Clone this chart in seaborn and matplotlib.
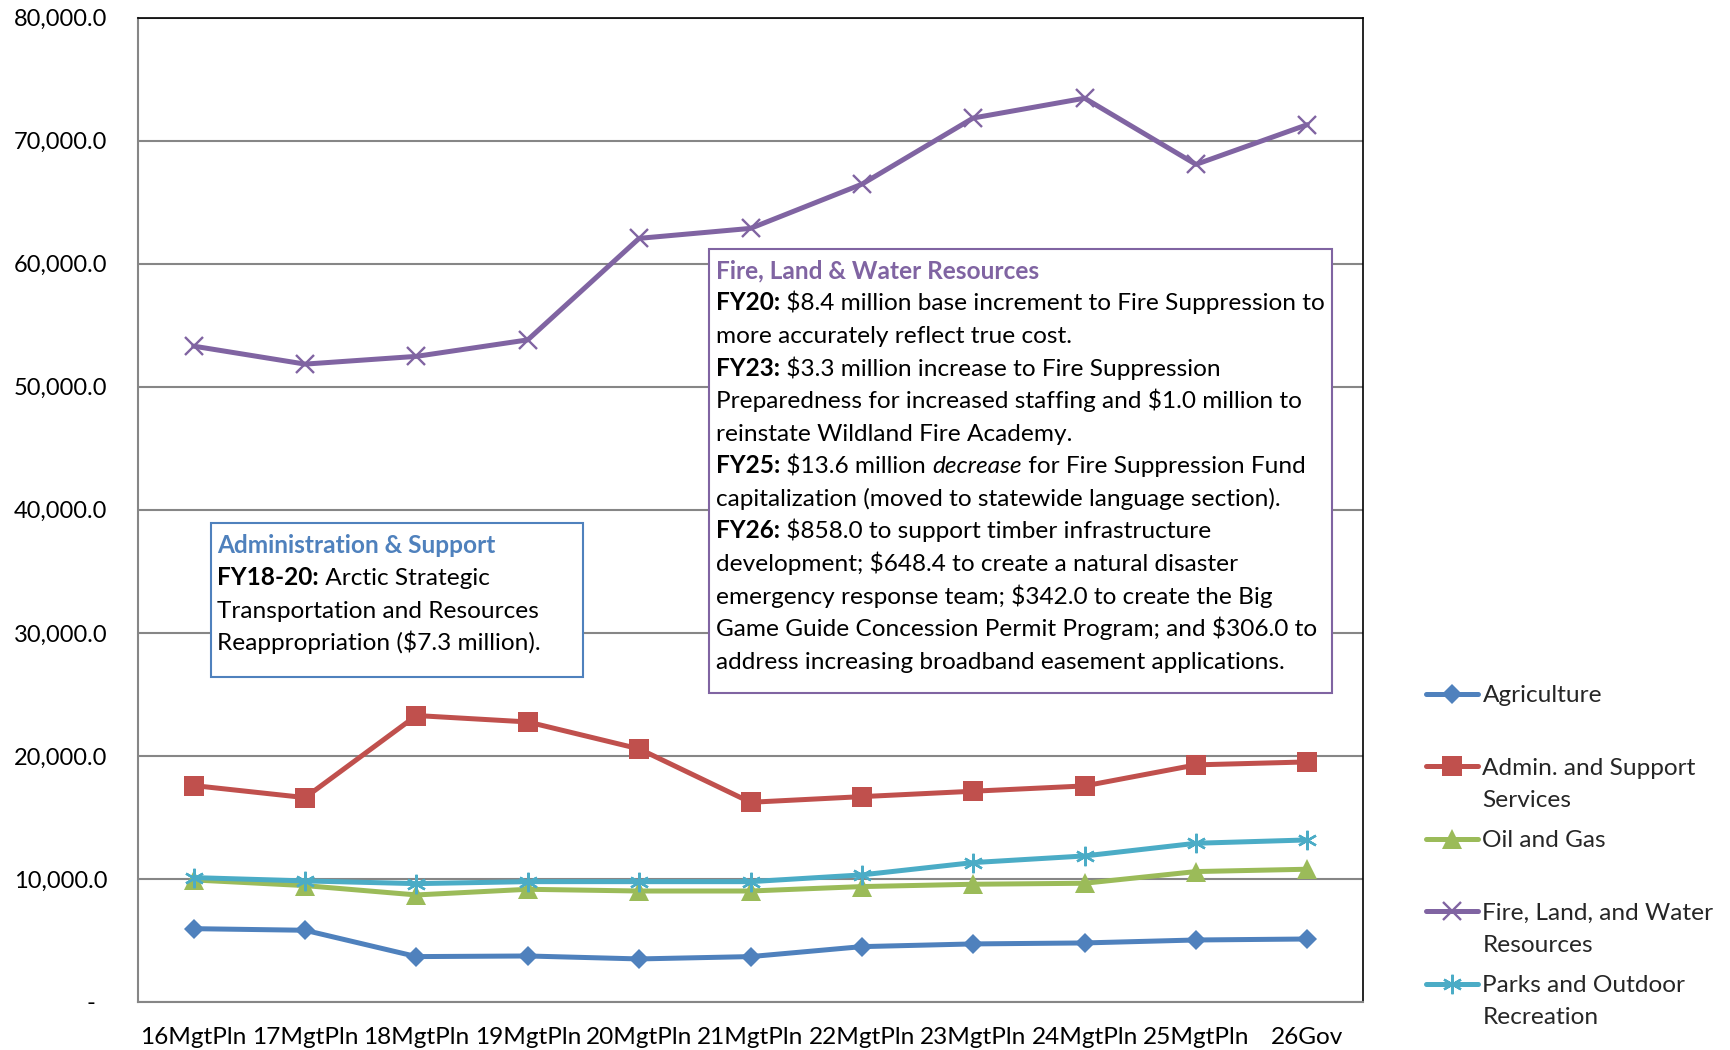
import matplotlib.pyplot as plt
import seaborn as sns
from matplotlib.patches import Rectangle

# --- data ---
years = ['16MgtPln', '17MgtPln', '18MgtPln', '19MgtPln', '20MgtPln', '21MgtPln',
         '22MgtPln', '23MgtPln', '24MgtPln', '25MgtPln', '26Gov']
agriculture = [5960, 5830, 3690, 3740, 3500, 3690, 4500, 4720, 4800, 5040, 5120]
admin_support = [17590, 16610, 23280, 22760, 20570, 16230, 16690, 17130, 17560, 19270, 19510]
oil_gas = [9920, 9460, 8700, 9160, 9020, 9020, 9380, 9570, 9650, 10600, 10790]
fire_land_water = [53300, 51840, 52470, 53810, 62060, 62870, 66460, 71840, 73450, 68070, 71300]
parks = [10110, 9840, 9620, 9780, 9780, 9780, 10330, 11330, 11870, 12900, 13170]

series_names = ['Agriculture', 'Admin. and Support\nServices', 'Oil and Gas',
                'Fire, Land, and Water\nResources', 'Parks and Outdoor\nRecreation']
series_values = [agriculture, admin_support, oil_gas, fire_land_water, parks]
colors = ['#4F81BD', '#C0504D', '#9BBB59', '#8064A2', '#4BACC6']
markers = ['D', 's', '^', 'x', (6, 2, 0)]
msizes = [10.5, 14, 14.5, 13, 14]

FS = 17.6  # Calibri-ish size used for the texts

sns.set_theme(style="white")
plt.rcParams['font.family'] = ['Lato', 'DejaVu Sans']

fig = plt.figure(figsize=(17.3, 10.5), dpi=100)
W, H = 1730, 1050
ax = fig.add_axes([138 / W, 1 - 1002 / H, 1225 / W, (1002 - 17.6) / H])

# 系列ごとに描画 (filled と line-art のマーカーが混在するため)
for name, vals, c, m, ms in zip(series_names, series_values, colors, markers, msizes):
    line_art = (m == 'x' or isinstance(m, tuple))
    sns.lineplot(x=years, y=vals, color=c, marker=m, markersize=ms, linewidth=3.6,
                 markeredgewidth=1.7 if line_art else 0, markeredgecolor=c,
                 sort=False, ax=ax)

ax.set_xlim(-0.5, len(years) - 0.5)
ax.set_ylim(0, 80000)
ax.set_yticks(range(0, 80001, 10000))
ax.set_yticklabels(['-  ' if v == 0 else f'{v:,.1f}' for v in range(0, 80001, 10000)],
                   fontsize=17)
ax.tick_params(axis='y', length=0, pad=22, colors='black')
ax.tick_params(axis='x', length=0, pad=18, labelsize=FS, colors='black')
ax.set_xlabel('')
ax.set_ylabel('')
ax.grid(axis='y', color='#868686', linewidth=1.5)
ax.grid(axis='x', visible=False)
for side in ['left', 'bottom']:
    ax.spines[side].set_color('#868686')
    ax.spines[side].set_linewidth(1.5)
for side in ['top', 'right']:
    ax.spines[side].set_color('black')
    ax.spines[side].set_linewidth(1.2)

# --- legend: first line of each label, continuation lines placed below ---
first_lines = [n.split('\n')[0] for n in series_names]
leg = fig.legend(ax.lines, first_lines, loc='upper left', bbox_to_anchor=(1414 / W, 1 - 673 / H),
                 frameon=False, fontsize=FS, handlelength=2.1, handletextpad=0.2,
                 labelspacing=2.1, borderpad=0)
fig.canvas.draw()
for t, name in zip(leg.get_texts(), series_names):
    parts = name.split('\n')
    if len(parts) > 1:
        bb = t.get_window_extent()
        fig.text(bb.x0 / W, (bb.y0 - 32) / H, parts[1], fontsize=FS, va='bottom')


def write_lines(x_px, y0_px, lines, step=32.6):
    """Write rich lines; each line is a list of (text, weight, style, color)."""
    for i, segs in enumerate(lines):
        y = 1 - (y0_px + i * step + 12) / H
        prev = None
        for txt, wt, st, col in segs:
            if prev is None:
                prev = fig.text(x_px / W, y, txt, fontsize=FS, fontweight=wt, fontstyle=st,
                                color=col, va='bottom', ha='left', parse_math=False, zorder=6)
            else:
                prev = fig.add_artist(plt.Annotation(
                    txt, xy=(1, 0), xycoords=prev, va='bottom', ha='left', fontsize=FS,
                    fontweight=wt, fontstyle=st, color=col, annotation_clip=False,
                    parse_math=False, zorder=6))


def plain(t):
    return (t, 'normal', 'normal', 'black')


def bold(t):
    return (t, 'bold', 'normal', 'black')


# --- annotation boxes ---
fig.add_artist(Rectangle((709 / W, 1 - 693 / H), 623 / W, 444 / H, transform=fig.transFigure,
                         facecolor='white', edgecolor='#8064A2', linewidth=1.5, zorder=5))
write_lines(716, 270, [[('Fire, Land & Water Resources', 'bold', 'normal', '#8064A2')]])
write_lines(716, 302.3, [
    [bold('FY20:'), plain(' $8.4 million base increment to Fire Suppression to')],
    [plain('more accurately reflect true cost.')],
    [bold('FY23:'), plain(' $3.3 million increase to Fire Suppression')],
    [plain('Preparedness for increased staffing and $1.0 million to')],
    [plain('reinstate Wildland Fire Academy.')],
    [bold('FY25:'), plain(' $13.6 million '), ('decrease', 'normal', 'italic', 'black'),
     plain(' for Fire Suppression Fund')],
    [plain('capitalization (moved to statewide language section).')],
    [bold('FY26:'), plain(' $858.0 to support timber infrastructure')],
    [plain('development; $648.4 to create a natural disaster')],
    [plain('emergency response team; $342.0 to create the Big')],
    [plain('Game Guide Concession Permit Program; and $306.0 to')],
    [plain('address increasing broadband easement applications.')],
])

fig.add_artist(Rectangle((211 / W, 1 - 677 / H), 372 / W, 154 / H, transform=fig.transFigure,
                         facecolor='white', edgecolor='#4F81BD', linewidth=1.5, zorder=5))
write_lines(217, 545, [[('Administration & Support', 'bold', 'normal', '#4F81BD')]])
write_lines(217, 577, [
    [bold('FY18-20:'), plain(' Arctic Strategic')],
    [plain('Transportation and Resources')],
    [plain('Reappropriation ($7.3 million).')],
])

plt.savefig('out.png', dpi=100)
